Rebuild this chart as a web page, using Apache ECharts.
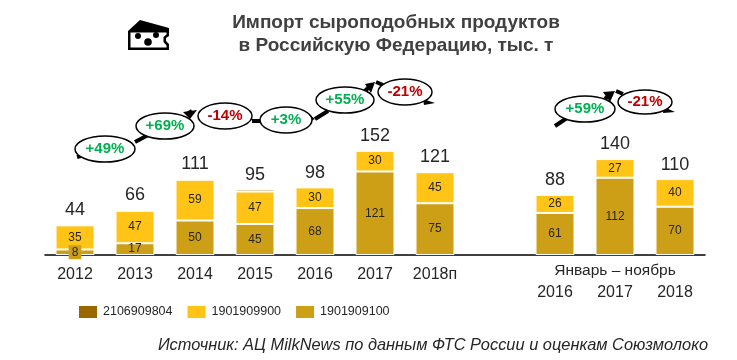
<!DOCTYPE html>
<html>
<head>
<meta charset="utf-8">
<script src="https://cdn.jsdelivr.net/npm/echarts@6/dist/echarts.min.js"></script>
<style>
  html, body { margin: 0; padding: 0; background: #fff; }
  #chart { width: 737px; height: 360px; }
</style>
</head>
<body>
<div id="chart"></div>
<script>
// Данные графика
const categories = ['2012', '2013', '2014', '2015', '2016', '2017', '2018п', '', '2016', '2017', '2018'];
const values1901909100 = [8, 17, 50, 45, 68, 121, 75, null, 61, 112, 70];
const values1901909900 = [35, 47, 59, 47, 30, 30, 45, null, 26, 27, 40];
const values2106909804 = [null, null, null, 3, null, null, null, null, null, null, null];
const totals = [44, 66, 111, 95, 98, 152, 121, null, 88, 140, 110];
const growthLabels = ['+49%', '+69%', '-14%', '+3%', '+55%', '-21%', '+59%', '-21%'];

const FONT = '"Liberation Sans", Arial, sans-serif';
const TEXT_COLOR = '#262626';
const GREEN = '#00B050';
const RED = '#C00000';

// Положение овалов: x, y, rx, ry
const bubbleBoxes = [
    [105, 149, 30, 13], [165, 126, 29, 13], [225, 116, 27, 13], [286, 120, 26, 13],
    [345, 100, 29, 13], [405, 92, 27, 13], [585, 109, 30, 13], [645, 102, 27, 12]
];
// Отрезки стрелки между овалами
const arrowLines = [
    [[77, 157], [84, 155]], [[135, 142], [150, 134]], [[187, 114], [192, 111]],
    [[252, 121], [262, 121]], [[315, 119], [328, 111]], [[365, 91], [370, 86]],
    [[376, 82], [383, 85]], [[555, 126], [567, 118]], [[605, 99], [610, 94]],
    [[616, 91], [623, 94]]
];
// Наконечники стрелок
const arrowHeads = [
    [[183, 112], [197, 110], [190, 119]], [[365, 84], [375, 82], [371, 93]],
    [[423, 99], [435, 103], [424, 105]], [[603, 92], [615, 91], [610, 102]],
    [[664, 107], [675, 112], [663, 113]], [[310, 115], [315, 119], [309, 122]]
];

function bubbleElements() {
    const items = [];
    arrowLines.forEach(function (pts) {
        items.push({
            type: 'polyline',
            shape: { points: pts },
            style: { stroke: '#000', lineWidth: 4, fill: null }
        });
    });
    arrowHeads.forEach(function (pts) {
        items.push({ type: 'polygon', shape: { points: pts }, style: { fill: '#000' } });
    });
    growthLabels.forEach(function (label, i) {
        const b = bubbleBoxes[i];
        items.push({
            type: 'ellipse',
            shape: { cx: b[0], cy: b[1], rx: b[2], ry: b[3] },
            style: { fill: '#fff', stroke: '#000', lineWidth: 1.5 }
        });
        items.push({
            type: 'text',
            x: b[0],
            y: b[1],
            style: {
                text: label,
                fill: label.charAt(0) === '+' ? GREEN : RED,
                font: 'bold 15px ' + FONT,
                align: 'center',
                verticalAlign: 'middle'
            }
        });
    });
    return items;
}

// Значок сыра
function cheeseIcon() {
    return [
        {
            type: 'polygon',
            shape: {
                points: [[128, 31], [140, 20], [169, 28], [169, 36], [166, 38], [166, 41], [169, 44], [169, 50], [128, 50]]
            },
            style: { fill: '#000' }
        },
        {
            type: 'polygon',
            shape: {
                points: [[130.5, 32.5], [166.5, 32.5], [166.5, 34.5], [163.5, 37], [163.5, 42], [166.5, 45.5], [166.5, 47.5], [130.5, 47.5]]
            },
            style: { fill: '#fff' }
        },
        { type: 'circle', shape: { cx: 138, cy: 36, r: 3 }, style: { fill: '#000' } },
        { type: 'circle', shape: { cx: 156, cy: 35, r: 3 }, style: { fill: '#000' } },
        { type: 'circle', shape: { cx: 148, cy: 42, r: 3.8 }, style: { fill: '#000' } }
    ];
}

const chart = echarts.init(document.getElementById('chart'), null, { renderer: 'canvas' });

const segmentLabel = {
    show: true,
    position: 'inside',
    color: TEXT_COLOR,
    fontFamily: FONT,
    fontSize: 12
};

chart.setOption({
    animation: false,
    backgroundColor: '#fff',
    title: [
        {
            text: 'Импорт сыроподобных продуктов\nв Российскую Федерацию, тыс. т',
            left: 391,
            top: 6,
            textAlign: 'center',
            textStyle: { color: '#404040', fontFamily: FONT, fontSize: 19, fontWeight: 'bold', lineHeight: 23 }
        },
        {
            text: 'Источник: АЦ MilkNews по данным ФТС России и оценкам Союзмолоко',
            right: 24,
            top: 332,
            textStyle: { color: TEXT_COLOR, fontFamily: FONT, fontSize: 16.4, fontStyle: 'italic', fontWeight: 'normal' }
        },
        {
            text: 'Январь – ноябрь',
            left: 610,
            top: 258,
            textAlign: 'center',
            textStyle: { color: TEXT_COLOR, fontFamily: FONT, fontSize: 15.5, fontWeight: 'normal' }
        }
    ],
    legend: {
        left: 72,
        top: 299,
        itemWidth: 20,
        itemHeight: 14,
        itemGap: 13,
        icon: 'rect',
        data: ['2106909804', '1901909900', '1901909100'],
        textStyle: { color: TEXT_COLOR, fontFamily: FONT, fontSize: 12.5 }
    },
    grid: { left: 45, width: 660, top: 48, height: 207 },
    xAxis: {
        type: 'category',
        data: categories,
        axisLine: { lineStyle: { color: '#000', width: 1.5 } },
        axisTick: { show: false },
        axisLabel: {
            interval: 0,
            margin: 12,
            color: TEXT_COLOR,
            fontFamily: FONT,
            fontSize: 16,
            formatter: function (value, index) {
                return index > 7 ? '{low|' + value + '}' : value;
            },
            rich: {
                low: { color: TEXT_COLOR, fontFamily: FONT, fontSize: 16, padding: [18, 0, 0, 0] }
            }
        }
    },
    yAxis: { type: 'value', min: 0, max: 300, show: false },
    series: [
        {
            name: '1901909100',
            type: 'bar',
            stack: 'total',
            barWidth: 39,
            data: values1901909100.map(function (v) {
                if (v === 8) {
                    // у маленького сегмента подпись на плашке
                    return { value: v, label: { backgroundColor: '#CC9F16', padding: [1, 3, 1, 3] } };
                }
                return v;
            }),
            itemStyle: { color: '#CC9F16', borderColor: '#fff', borderWidth: 1 },
            label: segmentLabel
        },
        {
            name: '1901909900',
            type: 'bar',
            stack: 'total',
            data: values1901909900,
            itemStyle: { color: '#FFC416', borderColor: '#fff', borderWidth: 1 },
            label: segmentLabel
        },
        {
            name: '2106909804',
            type: 'bar',
            stack: 'total',
            data: values2106909804,
            itemStyle: { color: '#996600', borderColor: '#fff', borderWidth: 1 }
        },
        {
            // Итоги над столбцами
            name: 'Итого',
            type: 'line',
            data: totals,
            symbolSize: 1,
            lineStyle: { opacity: 0 },
            itemStyle: { color: 'rgba(0,0,0,0)' },
            silent: true,
            label: {
                show: true,
                position: 'top',
                distance: 4,
                color: TEXT_COLOR,
                fontFamily: FONT,
                fontSize: 18
            }
        }
    ],
    graphic: { elements: cheeseIcon().concat(bubbleElements()) }
});
</script>
</body>
</html>
